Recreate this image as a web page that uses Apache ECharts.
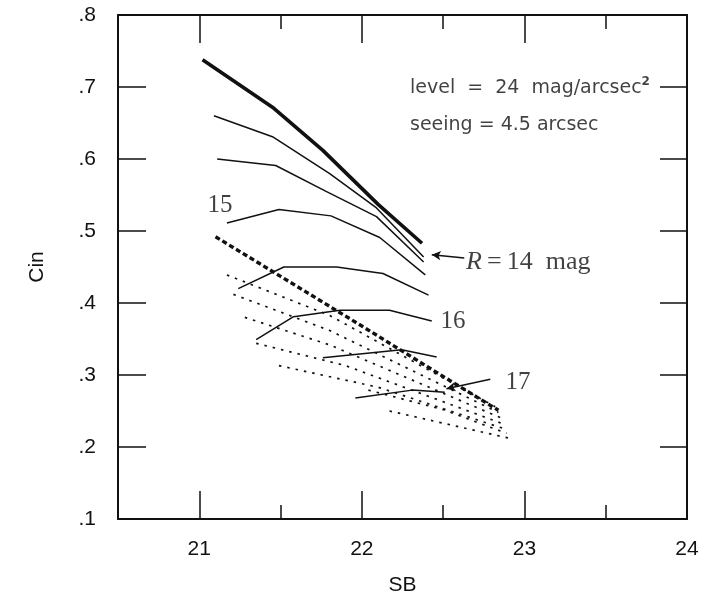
<!DOCTYPE html>
<html>
<head>
<meta charset="utf-8">
<script src="https://cdn.jsdelivr.net/npm/echarts@6/dist/echarts.min.js"></script>
<style>
    html, body { margin: 0; padding: 0; background: #fff; }
    #chart { width: 703px; height: 600px; }
</style>
</head>
<body>
<div id="chart"></div>
<script>
    // solid curves, SB vs Cin
    var thickLine = [[21.02, 0.738], [21.45, 0.672], [21.76, 0.612], [22.10, 0.537], [22.37, 0.483]];
    var line14b = [[21.09, 0.660], [21.45, 0.631], [21.80, 0.580], [22.09, 0.532], [22.38, 0.464]];
    var line14c = [[21.11, 0.600], [21.47, 0.591], [21.78, 0.555], [22.09, 0.520], [22.38, 0.457]];
    var line15 = [[21.17, 0.511], [21.49, 0.530], [21.81, 0.521], [22.11, 0.491], [22.39, 0.439]];
    var line15b = [[21.24, 0.420], [21.52, 0.450], [21.845, 0.450], [22.13, 0.441], [22.41, 0.411]];
    var line16 = [[21.35, 0.349], [21.58, 0.381], [21.865, 0.390], [22.17, 0.390], [22.43, 0.375]];
    var line16b = [[21.76, 0.324], [22.245, 0.335], [22.46, 0.325]];
    var line17 = [[21.96, 0.268], [22.31, 0.279], [22.51, 0.276]];

    // bold dashed line
    var boldDashed = [[21.10, 0.492], [21.50, 0.437], [22.00, 0.368], [22.50, 0.298], [22.84, 0.251]];

    // fine dotted lines
    var dot1 = [[21.17, 0.439], [21.80, 0.383], [22.82, 0.256]];
    var dot2 = [[21.21, 0.412], [21.80, 0.362], [22.84, 0.248]];
    var dot3 = [[21.28, 0.380], [21.80, 0.342], [22.86, 0.240]];
    var dot4 = [[21.35, 0.344], [21.90, 0.313], [22.87, 0.232]];
    var dot5 = [[21.49, 0.313], [22.10, 0.283], [22.88, 0.225]];
    var dot6 = [[22.04, 0.279], [22.50, 0.252], [22.89, 0.219]];
    var dot7 = [[22.17, 0.250], [22.91, 0.212]];

    // axis ticks
    var xMajor = [21, 22, 23];
    var xMinor = [21.5, 22.5, 23.5];
    var xLabels = [21, 22, 23, 24];

    // annotations
    var noteTexts = ['level  =  24  mag/arcsec{sup|2}', 'seeing = 4.5 arcsec', '15', '{i|R}\u2009=\u200914\u2002mag', '16', '17'];
    var notePos = [[22.296, 0.699], [22.296, 0.647], [21.127, 0.536], [22.64, 0.457], [22.56, 0.375], [22.96, 0.290]];
    var arrow14 = [[22.63, 0.4625], [22.43, 0.467]];
    var arrow17 = [[22.79, 0.294], [22.52, 0.281]];

    var ink = '#111';
    var chart = echarts.init(document.getElementById('chart'));

    function xAx(pos, ticks, len, line, labels) {
        return {
            type: 'value', position: pos, min: 20.5, max: 24,
            axisLine: {show: line, lineStyle: {color: ink, width: 2}},
            axisTick: {show: true, inside: true, length: len, customValues: ticks, lineStyle: {color: ink, width: 1.5}},
            axisLabel: labels ? {customValues: xLabels, color: ink, fontSize: 21, margin: 20, fontFamily: 'Liberation Sans'} : {show: false},
            splitLine: {show: false}
        };
    }

    var solidSets = [line14b, line14c, line15, line15b, line16, line16b, line17];
    var dotSets = [dot1, dot2, dot3, dot4, dot5, dot6, dot7];
    var series = [];

    series.push({type: 'line', data: thickLine, symbol: 'none', lineStyle: {color: ink, width: 3.6}});
    for (var i = 0; i < solidSets.length; i++) {
        series.push({type: 'line', data: solidSets[i], symbol: 'none', lineStyle: {color: ink, width: 1.5}});
    }
    series.push({type: 'line', data: boldDashed, symbol: 'none', lineStyle: {color: ink, width: 3.4, type: [5, 3]}});
    for (var j = 0; j < dotSets.length; j++) {
        series.push({type: 'line', data: dotSets[j], symbol: 'none', lineStyle: {color: ink, width: 1.7, type: [2.5, 6]}});
    }

    // arrows
    series.push({
        type: 'line', data: [], symbol: 'none',
        markLine: {
            silent: true, symbol: ['none', 'arrow'], symbolSize: [7, 9],
            label: {show: false},
            lineStyle: {color: ink, width: 1.6, type: 'solid'},
            data: [
                [{coord: arrow14[0]}, {coord: arrow14[1]}],
                [{coord: arrow17[0]}, {coord: arrow17[1]}]
            ]
        }
    });

    // text notes
    var noteData = [];
    for (var k = 0; k < noteTexts.length; k++) {
        var sans = k < 2;
        noteData.push({
            value: notePos[k],
            label: {
                formatter: noteTexts[k],
                align: (k < 2 || k === 3) ? 'left' : 'center',
                fontFamily: sans ? 'DejaVu Sans' : 'Liberation Serif',
                fontSize: sans ? 19 : (k === 3 ? 26 : 25)
            }
        });
    }
    series.push({
        type: 'scatter', symbolSize: 0, data: noteData, silent: true,
        label: {
            show: true, position: 'inside', color: ink, verticalAlign: 'middle',
            rich: {
                sup: {fontSize: 12, fontWeight: 'bold', fontFamily: 'DejaVu Sans', color: ink, padding: [0, 0, 12, 0]},
                i: {fontStyle: 'italic', fontSize: 26, fontFamily: 'Liberation Serif', color: ink}
            }
        }
    });

    var option = {
        backgroundColor: '#fff',
        animation: false,
        grid: {left: 118, right: 16, top: 15, bottom: 81, outerBoundsMode: 'none', containLabel: false},
        xAxis: [
            Object.assign(xAx('bottom', xMajor, 28, true, true), {name: 'SB', nameLocation: 'middle', nameGap: 56, nameTextStyle: {color: ink, fontSize: 21, fontFamily: 'Liberation Sans'}}),
            xAx('bottom', xMinor, 14, false, false),
            xAx('top', xMajor, 28, true, false),
            xAx('top', xMinor, 14, false, false)
        ],
        yAxis: [
            {
                type: 'value', position: 'left', min: 0.1, max: 0.8, interval: 0.1,
                name: 'Cin', nameLocation: 'middle', nameGap: 70, nameRotate: 90,
                nameTextStyle: {color: ink, fontSize: 21, fontFamily: 'Liberation Sans'},
                axisLine: {show: true, lineStyle: {color: ink, width: 2}},
                axisTick: {show: true, inside: true, length: 28, lineStyle: {color: ink, width: 1.5}},
                axisLabel: {
                    color: ink, fontSize: 21, margin: 22, fontFamily: 'Liberation Sans',
                    formatter: function (v) { return v.toFixed(1).replace(/^0/, ''); }
                },
                splitLine: {show: false}
            },
            {
                type: 'value', position: 'right', min: 0.1, max: 0.8, interval: 0.1,
                axisLine: {show: true, lineStyle: {color: ink, width: 2}},
                axisTick: {show: true, inside: true, length: 27, lineStyle: {color: ink, width: 1.5}},
                axisLabel: {show: false},
                splitLine: {show: false}
            }
        ],
        series: series
    };
    chart.setOption(option);
</script>
</body>
</html>
